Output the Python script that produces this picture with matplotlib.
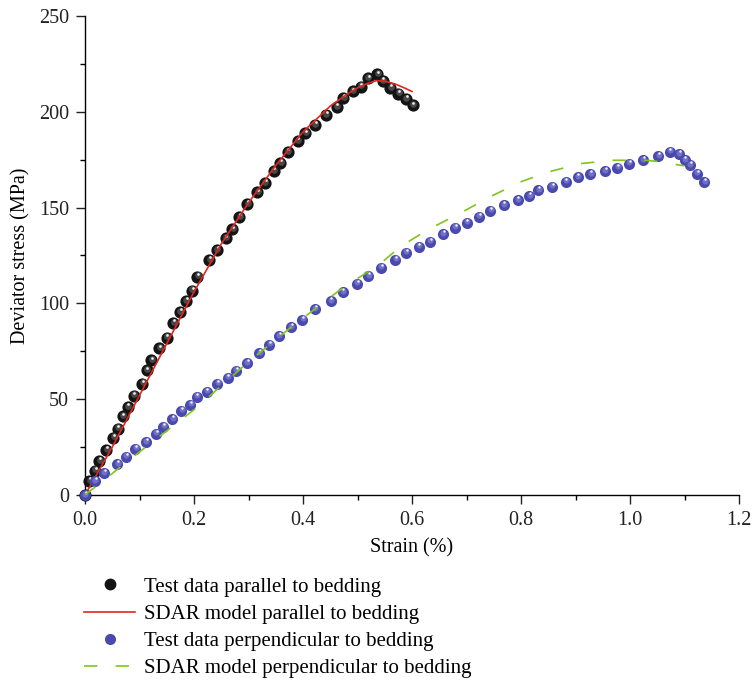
import matplotlib
matplotlib.use("Agg")
import matplotlib.pyplot as plt
from matplotlib.ticker import MultipleLocator
from matplotlib.transforms import offset_copy
from matplotlib.lines import Line2D

plt.rcParams["font.family"] = ["Liberation Serif", "DejaVu Serif"]

# test data, parallel to bedding
par_strain = [0.0, 0.008, 0.018, 0.026, 0.039, 0.052, 0.060, 0.069, 0.078, 0.089,
              0.105, 0.113, 0.122, 0.136, 0.150, 0.162, 0.174, 0.185, 0.196, 0.206,
              0.228, 0.242, 0.258, 0.270, 0.283, 0.298, 0.316, 0.330, 0.346, 0.358,
              0.372, 0.390, 0.404, 0.422, 0.442, 0.462, 0.474, 0.491, 0.506, 0.519,
              0.536, 0.546, 0.560, 0.575, 0.589, 0.601]
par_stress = [0.0, 7.3, 12.6, 17.8, 23.5, 30.0, 34.7, 41.0, 45.9, 51.8,
              58.1, 65.0, 70.2, 76.5, 82.0, 89.8, 95.3, 101.1, 106.7, 113.9,
              122.5, 127.8, 133.9, 138.6, 145.0, 151.8, 157.9, 162.8, 168.9, 173.1,
              179.0, 184.6, 188.7, 193.0, 198.2, 202.4, 207.0, 210.6, 213.2, 217.4,
              219.5, 216.0, 212.3, 209.4, 206.6, 203.3]

# SDAR model, parallel to bedding
par_model_strain = [0.0, 0.05, 0.10, 0.15, 0.20, 0.25, 0.30, 0.35, 0.40, 0.45,
                    0.48, 0.50, 0.52, 0.535, 0.55, 0.57, 0.585, 0.60]
par_model_stress = [0.0, 25.0, 52.0, 79.0, 106.0, 131.0, 152.5, 172.0, 189.5, 203.0,
                    209.0, 212.5, 215.0, 216.3, 216.0, 214.4, 212.6, 210.6]

# test data, perpendicular to bedding
perp_strain = [0.0, 0.018, 0.035, 0.059, 0.075, 0.092, 0.112, 0.130, 0.144, 0.160,
               0.177, 0.193, 0.205, 0.223, 0.243, 0.262, 0.277, 0.297, 0.320, 0.338,
               0.356, 0.378, 0.399, 0.422, 0.451, 0.473, 0.499, 0.520, 0.543, 0.569,
               0.589, 0.612, 0.633, 0.657, 0.679, 0.700, 0.723, 0.744, 0.768, 0.794,
               0.815, 0.832, 0.857, 0.882, 0.904, 0.927, 0.954, 0.977, 0.998, 1.024,
               1.052, 1.073, 1.090, 1.100, 1.110, 1.123, 1.136]
perp_stress = [0.0, 7.3, 11.3, 16.0, 20.0, 24.1, 27.6, 31.9, 35.7, 39.7,
               43.9, 47.1, 51.4, 54.0, 58.1, 61.3, 64.9, 68.9, 74.1, 78.5,
               82.8, 87.5, 91.5, 97.1, 101.1, 105.8, 110.2, 114.2, 118.6, 122.9,
               126.4, 129.5, 132.3, 136.1, 139.5, 142.1, 145.2, 148.4, 151.3, 153.8,
               155.9, 159.2, 160.9, 163.5, 166.0, 167.4, 169.1, 170.9, 173.0, 174.7,
               176.8, 179.2, 177.8, 174.7, 172.1, 167.7, 163.3]

# SDAR model, perpendicular to bedding
perp_model_strain = [0.0, 0.10, 0.20, 0.30, 0.38, 0.47, 0.54, 0.58, 0.63, 0.69,
                     0.74, 0.80, 0.85, 0.91, 0.97, 1.03, 1.06, 1.09, 1.10]
perp_model_stress = [0.0, 22.5, 44.5, 69.5, 88.0, 107.5, 120.3, 129.9, 138.6, 147.3,
                     155.2, 163.5, 168.6, 173.0, 174.7, 174.7, 173.8, 172.2, 171.8]

fig = plt.figure(figsize=(7.53, 6.88), dpi=100)
ax = fig.add_axes([85 / 753, 1 - 495 / 688, 654 / 753, 479 / 688])

red = "#e3261f"
green = "#82c41e"
blue = "#4a4aae"
black = "#141414"
fs = 14.5


def balls(x, y, base, mid, size, z):
    # shaded sphere look: base disc, lighter core, small white glint
    ax.plot(x, y, "o", ms=size, color=base, mec=base, mew=0, zorder=z, clip_on=False)
    t1 = offset_copy(ax.transData, fig=fig, x=0.3, y=1.0, units="points")
    ax.plot(x, y, "o", ms=size * 0.55, color=mid, mew=0, alpha=0.6,
            transform=t1, zorder=z + 0.1, clip_on=False)
    t2 = offset_copy(ax.transData, fig=fig, x=0.5, y=2.1, units="points")
    ax.plot(x, y, "o", ms=size * 0.22, color="white", mew=0, alpha=0.9,
            transform=t2, zorder=z + 0.2, clip_on=False)


balls(par_strain, par_stress, black, "#6a6a6a", 8.8, 3)
ax.plot(par_model_strain, par_model_stress, color=red, lw=1.2, zorder=4)
balls(perp_strain, perp_stress, blue, "#8a8ad8", 8.0, 5)
ax.plot(perp_model_strain, perp_model_stress, color=green, lw=1.2,
        dashes=(8, 11), zorder=6)

ax.set_xlim(0, 1.2)
ax.set_ylim(0, 250)
ax.xaxis.set_major_locator(MultipleLocator(0.2))
ax.xaxis.set_minor_locator(MultipleLocator(0.1))
ax.yaxis.set_major_locator(MultipleLocator(50))
ax.yaxis.set_minor_locator(MultipleLocator(25))
ax.xaxis.set_major_formatter(plt.FuncFormatter(lambda v, p: f"{v:.1f}"))
ax.spines["top"].set_visible(False)
ax.spines["right"].set_visible(False)
for s in ("left", "bottom"):
    ax.spines[s].set_linewidth(1.0)
ax.tick_params(which="major", direction="out", length=6.5, width=1.0, labelsize=fs,
               colors="#222222", pad=5)
ax.tick_params(which="minor", direction="out", length=3.4, width=1.0)
ax.set_xlabel("Strain (%)", fontsize=fs, labelpad=6)
ax.set_ylabel("Deviator stress (MPa)", fontsize=fs, labelpad=6)

handles = [
    Line2D([], [], ls="none", marker="o", ms=8.5, color=black, mew=0),
    Line2D([], [], color=red, lw=1.2),
    Line2D([], [], ls="none", marker="o", ms=8, color=blue, mew=0),
    Line2D([], [], color=green, lw=1.2, dashes=(8, 11)),
]
labels = ["Test data parallel to bedding", "SDAR model parallel to bedding",
          "Test data perpendicular to bedding", "SDAR model perpendicular to bedding"]
fig.legend(handles, labels, loc="upper left", bbox_to_anchor=(84 / 753, 1 - 577 / 688),
           frameon=False, fontsize=15, handlelength=2.45, handletextpad=0.45,
           labelspacing=0.37, borderpad=0, borderaxespad=0)

fig.savefig("out.png", dpi=100)
